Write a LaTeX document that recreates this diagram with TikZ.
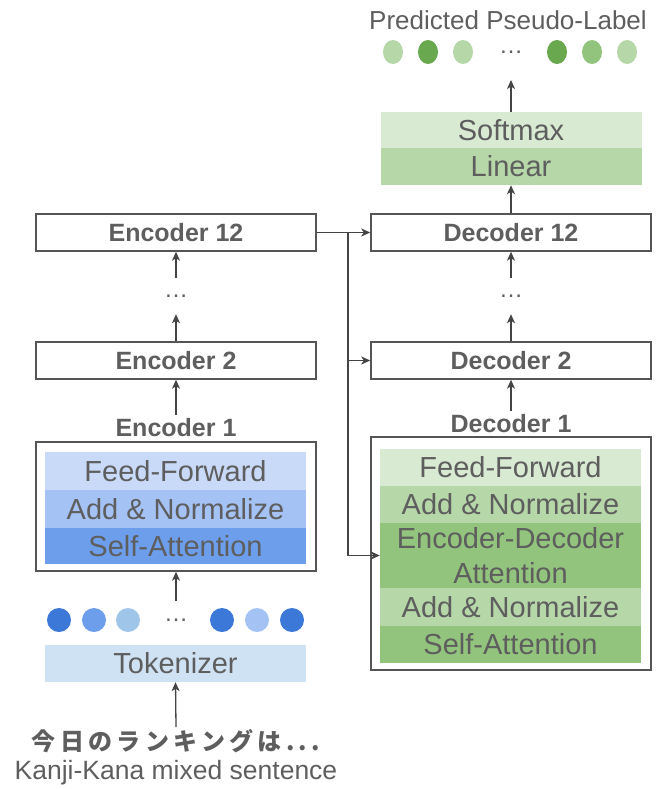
\documentclass[tikz,border=0pt]{standalone}
\usepackage{fontspec}
\setmainfont{Liberation Sans}
\newfontfamily\jpfont[LetterSpace=18]{Noto Sans CJK JP}
\usetikzlibrary{arrows.meta}
\definecolor{txtgray}{HTML}{5E5E5E}
\definecolor{linegray}{HTML}{555555}
\definecolor{arrowgray}{HTML}{444444}
\definecolor{bluea}{HTML}{C9DAF8}
\definecolor{blueb}{HTML}{A4C2F4}
\definecolor{bluec}{HTML}{6D9EEB}
\definecolor{blued}{HTML}{3C78D8}
\definecolor{bluee}{HTML}{9FC5E8}
\definecolor{bluetok}{HTML}{CFE2F3}
\definecolor{greena}{HTML}{D9EAD3}
\definecolor{greenb}{HTML}{B6D7A8}
\definecolor{greenc}{HTML}{93C47D}
\definecolor{greend}{HTML}{6AA84F}
\begin{document}
\begin{tikzpicture}[x=1pt,y=-1pt,
  every node/.style={text=txtgray},
  blockbox/.style={draw=linegray, line width=1.5pt, minimum width=280pt, minimum height=37pt,
    inner sep=0pt, font=\fontsize{25}{29}\selectfont\bfseries},
  frame/.style={draw=linegray, line width=1.5pt, minimum width=280pt, inner sep=0pt},
  layer/.style={minimum width=261pt, inner sep=0pt, align=center,
    font=\fontsize{29}{35}\selectfont},
  caption/.style={font=\fontsize{25}{29}\selectfont\bfseries},
  dots/.style={font=\fontsize{24}{28}\selectfont, minimum height=36pt, inner sep=0pt},
  rowdots/.style={font=\fontsize{24}{28}\selectfont, inner sep=0pt},
  link/.style={draw=arrowgray, line width=1.3pt, -{Stealth[length=9pt,width=8pt,inset=2.5pt]}},
  plain/.style={draw=arrowgray, line width=1.3pt}
]
\useasboundingbox (0,0) rectangle (668,789);

% ---------------- output side ----------------
\node[font=\fontsize{26}{30}\selectfont] (plabel) at (508,20) {Predicted Pseudo-Label};
\foreach \x/\c in {393/greenb, 428/greend, 463/greenb, 557/greend, 592/greenc, 627/greenb}
  \fill[\c] (\x,52) ellipse [x radius=10, y radius=12];
\node[rowdots] (gdots) at (511,52) {\dots};
\coordinate (pout) at (511,80);

\node[layer, fill=greena, minimum height=36pt] (softmax) at (511,130) {Softmax};
\node[layer, fill=greenb, minimum height=37pt] (linear) at (511,166.5) {Linear};

% ---------------- encoder stack ----------------
\node[blockbox] (enc12) at (176,232.5) {Encoder 12};
\node[dots] (edots) at (176,296) {\dots};
\node[blockbox] (enc2) at (176,360.5) {Encoder 2};
\node[caption] (enc1lbl) at (176,428) {Encoder 1};
\node[frame, minimum height=129pt] (enc1) at (176,506.5) {};
\node[layer, fill=bluea, minimum height=38pt] (eff) at (175.5,471) {Feed-Forward};
\node[layer, fill=blueb, minimum height=38pt] (ean) at (175.5,509) {Add \& Normalize};
\node[layer, fill=bluec, minimum height=36pt] (esa) at (175.5,546) {Self-Attention};

\foreach \x/\c in {59/blued, 94/bluec, 128/bluee, 222/blued, 257/blueb, 292/blued}
  \fill[\c] (\x,620) circle [radius=12];
\node[rowdots] (bdots) at (176,620) {\dots};
\coordinate (ein) at (176,601);
\node[layer, fill=bluetok, minimum height=37pt] (tok) at (175.5,663.5) {Tokenizer};
\node[font=\jpfont\bfseries\fontsize{24}{28}\selectfont, inner sep=2pt] (jp) at (176,741) {今日のランキングは...};
\node[font=\fontsize{26.5}{30}\selectfont] (kk) at (176,773) {Kanji-Kana mixed sentence};

% ---------------- decoder stack ----------------
\node[blockbox] (dec12) at (511,232.5) {Decoder 12};
\node[dots] (ddots) at (511,296) {\dots};
\node[blockbox] (dec2) at (511,360.5) {Decoder 2};
\node[caption] (dec1lbl) at (511,424) {Decoder 1};
\node[frame, minimum height=233pt] (dec1) at (511,553.5) {};
\node[layer, fill=greena, minimum height=37pt] (dff) at (510.5,467.5) {Feed-Forward};
\node[layer, fill=greenb, minimum height=37pt] (dan2) at (510.5,504.5) {Add \& Normalize};
\node[layer, fill=greenc, minimum height=65pt] (eda) at (510.5,555.5) {Encoder-Decoder\\Attention};
\node[layer, fill=greenb, minimum height=38pt] (dan1) at (510.5,607) {Add \& Normalize};
\node[layer, fill=greenc, minimum height=37pt] (dsa) at (510.5,644.5) {Self-Attention};

% ---------------- connectors ----------------
\draw[link] (jp.north) -- (tok.north |- tok.south);
\draw[link] (ein) -- (enc1.south);
\draw[link] (enc1lbl.north) -- (enc2.south);
\draw[link] (enc2.north) -- (edots.south);
\draw[link] (edots.north) -- (enc12.south);

\draw[link] (dec1lbl.north) -- (dec2.south);
\draw[link] (dec2.north) -- (ddots.south);
\draw[link] (ddots.north) -- (dec12.south);
\draw[link] (dec12.north) -- (linear.south);
\draw[link] (softmax.north) -- (pout);

\coordinate (split) at (348,232.5);
\draw[plain] (enc12.east) -- (split);
\draw[link] (split) -- (dec12.west);
\draw[link] (split) |- (dec2.west);
\draw[link] (split) |- (eda.west);
\end{tikzpicture}
\end{document}
